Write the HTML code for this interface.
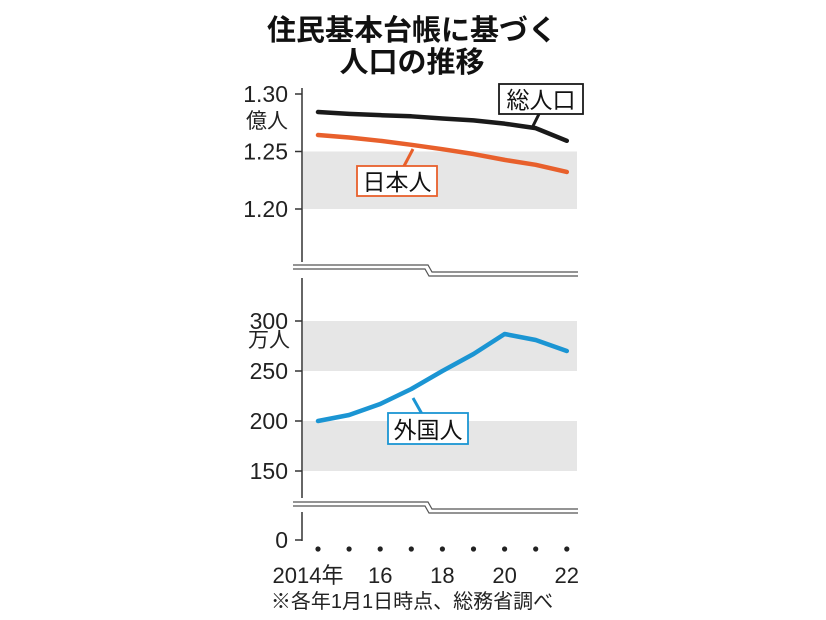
<!DOCTYPE html>
<html><head><meta charset="utf-8"><style>
body{margin:0;background:#fff}
svg{display:block;font-family:"Liberation Sans","Noto Sans CJK JP",sans-serif}
</style></head><body>
<svg id="c" width="826" height="620" viewBox="0 0 826 620">
<text x="412" y="40" text-anchor="middle" font-size="29" font-weight="bold" fill="#111">住民基本台帳に基づく</text>
<text x="412" y="72" text-anchor="middle" font-size="29" font-weight="bold" fill="#111">人口の推移</text>
<g id="g"></g>
<text x="412" y="608" text-anchor="middle" font-size="20" fill="#222">※各年1月1日時点、総務省調べ</text>
</svg>
<script>
const years=[2014,2015,2016,2017,2018,2019,2020,2021,2022];
const yearLabels=["2014年","","16","","18","","20","","22"];
const totalPop=[1.2843,1.2827,1.2816,1.2806,1.2787,1.2771,1.2742,1.2703,1.2593];
const japanesePop=[1.2643,1.2622,1.2593,1.2558,1.2520,1.2478,1.2427,1.2384,1.2322];
const foreignPop=[200,206,217,232,250,267,287,281,270];
const upperTicks=["1.30","1.25","1.20"];
const upperTickVals=[1.30,1.25,1.20];
const lowerTickVals=[300,250,200,150];
const NS="http://www.w3.org/2000/svg";
const g=document.getElementById('g');
function mk(t,a,p){const e=document.createElementNS(NS,t);for(const k in a)e.setAttribute(k,a[k]);(p||g).appendChild(e);return e;}
const x=i=>318+i*31.1;
const yU=v=>94+(1.30-v)*1150;
const yL=v=>321+(300-v);
const ax=302;
// bands
let b=mk('rect',{x:303,y:yU(1.25),width:274,height:yU(1.20)-yU(1.25),fill:'#e6e6e6'});

b=mk('rect',{x:303,y:yL(300),width:274,height:yL(250)-yL(300),fill:'#e6e6e6'});

b=mk('rect',{x:303,y:yL(200),width:274,height:yL(150)-yL(200),fill:'#e6e6e6'});

// axis
let a=mk('line',{x1:ax,y1:88,x2:ax,y2:262,stroke:'#333','stroke-width':1.5});

a=mk('line',{x1:ax,y1:278,x2:ax,y2:498,stroke:'#333','stroke-width':1.5});

a=mk('line',{x1:ax,y1:512,x2:ax,y2:541,stroke:'#333','stroke-width':1.5});

// breaks
function brk(y0,name){
 const p=mk('path',{d:`M293 ${y0} H428 L432 ${y0+7} H578 M293 ${y0+4} H425 L429 ${y0+11} H578`,stroke:'#555','stroke-width':1.2,fill:'none'});
 
}
brk(265,'axis-break-upper');brk(502,'axis-break-lower');
// ticks
upperTickVals.forEach((v,i)=>{
 const t=mk('line',{x1:ax-7,y1:yU(v),x2:ax,y2:yU(v),stroke:'#333','stroke-width':1.5});
 
 const l=mk('text',{x:288,y:yU(v)+8,'text-anchor':'end','font-size':23,fill:'#222'});l.textContent=upperTicks[i];
 
});
lowerTickVals.forEach(v=>{
 const t=mk('line',{x1:ax-7,y1:yL(v),x2:ax,y2:yL(v),stroke:'#333','stroke-width':1.5});
 
 const l=mk('text',{x:288,y:yL(v)+8,'text-anchor':'end','font-size':23,fill:'#222'});l.textContent=String(v);
 
});
let t0=mk('line',{x1:ax-7,y1:540,x2:ax,y2:540,stroke:'#333','stroke-width':1.5});

let l0=mk('text',{x:288,y:548,'text-anchor':'end','font-size':23,fill:'#222'});l0.textContent='0';

let u=mk('text',{x:288,y:128,'text-anchor':'end','font-size':21,fill:'#222'});u.textContent='億人';

u=mk('text',{x:290,y:347,'text-anchor':'end','font-size':21,fill:'#222'});u.textContent='万人';

// x dots & labels
years.forEach((yr,i)=>{
 const d=mk('circle',{cx:x(i),cy:549,r:2.6,fill:'#222'});
 
 if(yearLabels[i]){const l=mk('text',{x:x(i)+(i===0?-10:0),y:583,'text-anchor':'middle','font-size':22,fill:'#222'});l.textContent=yearLabels[i];
 }
});
// lines
function line(vals,yf,col,name){
 const p=mk('polyline',{points:vals.map((v,i)=>x(i)+','+yf(v)).join(' '),fill:'none',stroke:col,'stroke-width':4.5,'stroke-linejoin':'round','stroke-linecap':'round'});
 
}
line(totalPop,yU,'#1a1a1a','line-total-population');
line(japanesePop,yU,'#e8602c','line-japanese');
line(foreignPop,yL,'#1b95d3','line-foreign');
// labels
function lab(xb,yb,w,h,txt,col,px1,py1,px2,py2,name){
 const p=mk('line',{x1:px1,y1:py1,x2:px2,y2:py2,stroke:col,'stroke-width':3});
 
 const r=mk('rect',{x:xb,y:yb,width:w,height:h,fill:'#fff',stroke:col,'stroke-width':1.8});
 
 const t=mk('text',{x:xb+w/2,y:yb+h-6,'text-anchor':'middle','font-size':23,fill:'#111'});t.textContent=txt;
 
}
lab(499,84,84,30,'総人口','#1a1a1a',540,112,533,126,'label-total');
lab(357,166,80,30,'日本人','#e8602c',403,168,413,149,'label-japanese');
lab(388,413,80,31,'外国人','#1b95d3',422,414,413,398,'label-foreign');
</script>
</body></html>
